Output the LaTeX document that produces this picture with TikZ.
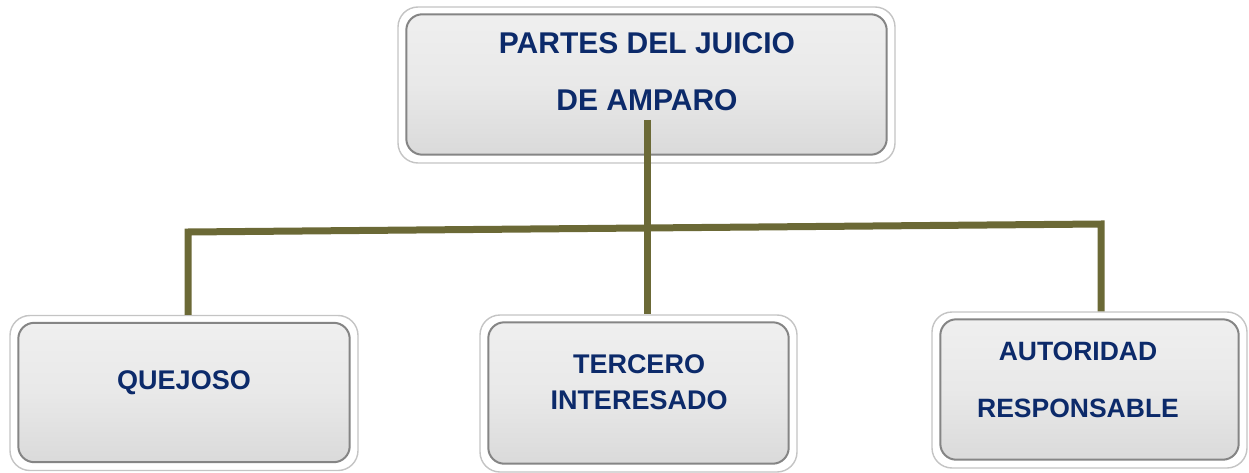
\documentclass[tikz,border=0pt]{standalone}
\usepackage{fontspec}
\setmainfont{Liberation Sans}
\definecolor{navy}{HTML}{0C2A6A}
\definecolor{olive}{HTML}{6B6936}
\definecolor{rim}{HTML}{C4C4C4}
\definecolor{faceTop}{HTML}{EFEFEF}
\definecolor{faceBot}{HTML}{DADADA}
\definecolor{faceEdge}{HTML}{858585}
\begin{document}
\begin{tikzpicture}[x=1pt,y=1pt,
  boxouter/.style={draw=rim, line width=1.4pt, fill=white, rounded corners=20pt,
     inner sep=0pt, minimum width=#1},
  boxface/.style={draw=faceEdge, line width=2pt, top color=faceTop, bottom color=faceBot,
     middle color=faceTop!70!faceBot, rounded corners=16pt},
  lbl/.style={font=\bfseries, text=navy, align=center, inner sep=0pt},
  conn/.style={draw=olive, line width=7pt, line join=miter}]
\useasboundingbox (0,0) rectangle (1249,472);
% boxes
\node[boxouter=497pt, minimum height=156pt] (top) at (646.5,387) {};
\node[boxouter=348pt, minimum height=155pt] (q) at (184,79) {};
\node[boxouter=317pt, minimum height=157pt] (t) at (638.5,78.5) {};
\node[boxouter=315pt, minimum height=156pt] (a) at (1089.5,82) {};
\foreach \n in {top,q,t,a}{
  \path[boxface] ([shift={(9,-8)}]\n.north west) rectangle ([shift={(-9,9)}]\n.south east);
}
% labels
\node[lbl, font=\bfseries\fontsize{30}{57}\selectfont] (ttop) at (647,400.5) {PARTES DEL JUICIO\\DE AMPARO};
\node[lbl, font=\bfseries\fontsize{27}{36}\selectfont] (tq) at (184,89) {QUEJOSO};
\node[lbl, font=\bfseries\fontsize{27}{36}\selectfont] (tt) at (639,90) {TERCERO\\INTERESADO};
\node[lbl, font=\bfseries\fontsize{26.5}{57}\selectfont] (ta) at (1078,92.5) {AUTORIDAD\\RESPONSABLE};
% connectors
\coordinate (jl) at (188,240);
\coordinate (jr) at (1101,248);
\coordinate (src) at (647,352);
\draw[conn] (src) -- (src |- t.north);
\draw[conn] (jl |- q.north) -- (jl) -- (jr) -- (jr |- a.north);
\end{tikzpicture}
\end{document}
